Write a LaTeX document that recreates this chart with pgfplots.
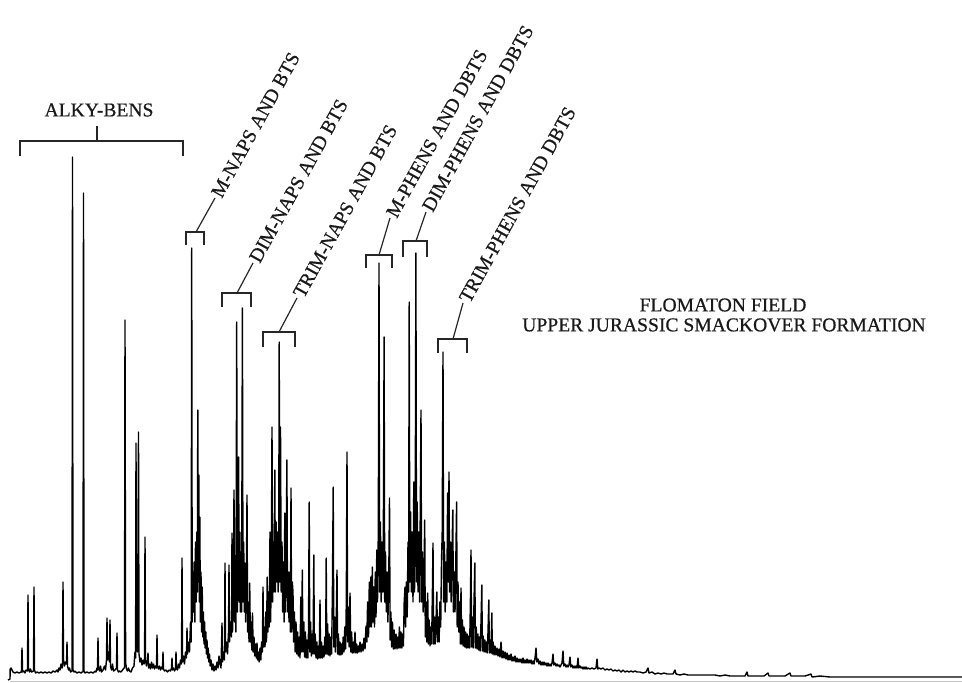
\documentclass[border=0pt]{standalone}
\usepackage{pgfplots}
\pgfplotsset{compat=1.18}
\usepackage{fontspec}
\setmainfont{Liberation Serif}[FakeBold=0.6]

% Flame-ionisation trace of the aromatic fraction: retention position (x)
% against detector response (y), both in plot units.
\pgfplotstableread{
x y
8 2
10 3
10.2 13
11 14
12 12
13 10
15 9
17 10
19 9
21.4 10
22 34
22.6 10
24 11
25 9
26 12
27.5 11
28 87
28.5 14
29.5 10
30.5 13
31.5 10
33.5 11
34 95
34.5 12
35.5 9
37 10
39 9
41 10
43 9
45 10
47 9
49 10
51 9
53 11
55 10
57 12
58 10
59 14
60 12
61 18
62 14
62.5 15
63 100
63.5 22
64.5 16
65.5 20
66.5 18
67 40
67.5 16
68.5 12
69.5 14
70.5 10
72 11
72.5 525
73 12
74 10
75 11
77 9
79 10
81 9
82 10
83 10
83.5 489
84 11
85 9
87 10
89 9
91 10
93 9
95 11
96 10
97 14
97.5 12
98 44
98.5 14
99.5 11
100.5 16
101.5 10
103 12
104.5 16
105.5 12
106.5 22
107 64
107.5 22
108.5 30
109.5 20
110 62
110.5 16
111.5 12
112.5 18
113.5 11
115 12
116.5 14
117 49
117.5 12
118.5 10
119.5 11
121 10
122.5 12
124 14
124.5 14
125 362
125.6 20
126.5 13
127.5 11
128.5 14
129.5 11
131 10
132.5 14
134 16
135 30
135.6 24
136 239
136.5 40
137.5 30
138.5 250
139 28
140 20
141 24
142 17
143 22
144 18
144.6 20
145 145
145.5 22
146.5 16
147.5 22
148 29
148.6 14
149.5 18
150.5 13
151.5 20
152.5 14
153.5 18
154.5 13
155.5 16
156.5 14
157 47
157.5 16
158.5 13
159.5 16
160.5 12
161.5 15
162.5 13
163 30
163.5 13
164.5 11
166 12
167.5 10
169 12
170.5 11
171.5 14
172 24
172.5 12
173.5 14
174.5 11
175.5 13
176 30
176.5 13
177.5 12
178.5 18
179.5 14
180.5 22
181.5 18
182 124
182.5 20
183.5 26
184.5 18
185.5 30
186.5 24
187 54
187.5 28
188.5 40
189.5 30
190.5 60
191.2 40
191.7 434
192.2 60
193 110
193.6 70
194.2 120
194.8 60
195.5 140
196.2 80
196.8 150
197.3 90
197.8 272
198.3 100
198.8 207
199.3 80
199.8 165
200.4 60
201 110
201.6 50
202.2 95
202.8 45
203.4 70
204 38
204.6 60
205.2 34
205.8 50
206.4 28
207 42
207.6 24
208.2 34
208.8 20
209.5 28
210.2 16
211 22
212 12
213 18
214 11
215 16
216 12
217 20
218 14
219 26
220 18
221 14
222 59
222.5 20
223.5 30
224.5 22
225 119
225.5 30
226.5 40
227.5 28
228.5 50
229 117
229.5 40
230.5 60
231.5 45
232 149
232.5 50
233.3 80
234 192
234.6 60
235.3 100
235.9 50
236.7 360
237.3 70
238 120
238.6 225
239.2 80
239.8 150
240.4 70
241 130
241.6 70
242.4 374
243 80
243.7 140
244.3 70
245 119
245.6 60
246.3 90
247 187
247.6 50
248.3 80
249 40
249.7 99
250.4 40
251.1 60
251.8 32
252.5 69
253.2 30
254 45
254.8 26
255.6 38
256.4 24
257 39
257.6 22
258.4 30
259.2 20
260 34
260.8 22
261.6 40
262.4 30
263 95
263.6 35
264.3 55
265 35
265.8 70
266.5 40
267.2 105
267.8 50
268.5 90
269.2 55
270 150
270.6 60
271.3 110
272 255
272.6 80
273.3 140
274 90
274.8 212
275.4 90
276.2 160
276.8 100
277.5 150
278.2 90
278.7 120
279.2 340
279.8 100
280.5 255
281.2 90
282 140
282.7 70
283.4 120
284.1 60
284.8 169
285.4 70
286.2 130
286.9 222
287.5 70
288.3 110
289 60
289.7 110
290.4 50
291 194
291.6 50
292.3 100
293 90
293.6 40
294.4 70
295.2 30
296 60
296.8 28
297.6 50
298.4 26
299.2 45
300 24
300.8 85
301.5 30
302.3 112
303 30
303.8 60
304.6 25
305.4 50
306.2 24
307 42
307.8 24
308.5 50
309.2 180
309.8 30
310.6 60
311.4 26
312.2 48
313 28
313.8 127
314.4 28
315.2 48
316 24
316.8 40
317.6 23
318.4 36
319.2 24
320 82
320.6 24
321.5 40
322.4 24
323.2 36
324 25
324.8 45
325.6 28
326.2 124
326.8 28
327.6 58
328.4 27
329.2 48
330 26
330.8 45
331.6 28
332.4 90
333.2 195
333.8 35
334.6 65
335.4 30
336.2 58
337 112
337.6 28
338.4 48
339.2 27
340 40
340.8 27
341.6 38
342.4 28
343.2 45
344 30
344.8 55
345.6 33
346.3 80
347 230
347.6 40
348.4 75
349.2 35
350 89
350.8 30
351.6 50
352.4 29
353.2 40
354 29
355 50
355.8 29
356.6 38
357.4 29
358.2 36
359 30
360 40
361 30
362 38
363 31
364 44
365 33
366 56
366.8 40
367.6 80
368.5 45
369.3 100
370 55
370.8 105
371.5 55
372.3 115
373 60
373.8 95
374.5 55
375.3 110
376 65
376.8 132
377.5 80
378.3 150
379 419
379.6 90
380.4 160
381.2 80
382 140
382.8 90
383.5 180
384.1 345
384.7 80
385.5 130
386.3 70
387.1 110
387.9 60
388.7 100
389.5 184
390.1 42
390.9 70
391.7 35
392.5 60
393.3 33
394.1 52
395 33
396 48
397 33
397.8 45
398.6 34
399.4 55
400.2 34
401 50
401.8 34
402.6 48
403.4 36
404.2 80
405 95
405.6 55
406.4 100
407.2 65
408 140
408.6 90
409.2 380
409.8 100
410.6 170
411.4 90
412.2 150
413 80
413.8 200
414.5 90
415.2 150
415.9 429
416.5 100
417.2 180
418 90
418.8 150
419.6 80
420.4 190
421 272
421.6 80
422.4 130
423.2 70
424 110
424.7 162
425.3 45
426.1 80
426.9 40
427.7 89
428.4 38
429.2 62
430 36
430.8 55
431.6 38
432.4 90
433 139
433.6 38
434.4 65
435.2 38
436 60
436.8 90
437.5 40
438.3 65
439.1 40
439.9 80
440.7 55
441.5 120
442.2 150
443 330
443.6 80
444.4 140
445.2 70
446 120
446.8 80
447.6 189
448.3 100
449 210
449.6 90
450.4 140
451.2 80
452 130
452.8 172
453.4 70
454.2 110
455 70
455.8 120
456.6 180
457.2 55
458 100
458.8 50
459.6 80
460.4 38
461 94
461.6 38
462.4 62
463.2 36
464 55
464.8 35
465.6 50
466.4 34
467.2 48
468 34
468.8 46
469.6 34
470.4 80
471 132
471.6 35
472.4 65
473.2 34
474 80
474.8 119
475.4 34
476.2 55
477 33
477.8 48
478.6 32
479.4 45
480.2 31
481 60
481.8 97
482.4 31
483.2 46
484 30
484.8 42
485.6 30
486.4 40
487.2 29
488 50
488.8 82
489.4 29
490.2 42
491 29
491.8 69
492.4 28
493.2 40
494 27
495 36
496 27
497 34
498 26
499 33
500 25
501 40
502 24
503 31
504 24
505 30
506 23
507 29
508 22
509 27
510 22
511 28
512 21
513 25
514 21
515 26
516 20
517 24
518 20
519 23
520 20
521 23
522 19
523 24
524 19
525 22
526 19
527 23
528 19
529 22
530 19
531 22
532 18
533 21
534 18
535 24
536 34
536.8 20
538 23
539 18
540 21
541 17
542 20
543 17
544 20
545 17
546 19
547 16
548 19
549 16
550 18
551 16
552 19
553 28
553.8 17
555 19
556 16
557 18
558 16
559 17
560 15
561 17
562 19
563 31
563.8 16
565 18
566 15
567 17
568 15
569 17
570 25
570.8 15
572 17
573 14
574 16
575 14
576 16
577 14
578 24
578.8 14
580 16
581 14
582 15
583 13
584 15
585 13
586 15
587 13
588 14
590 13
592 14
594 13
596 14
597 23
597.8 13
599 14
601 13
603 14
605 12
607 13
609 12
611 13
613 11
615 12
617 11
619 12
621 10
623 12
625 10
627 11
629 10
631 11
633 10
635 11
637 10
640 10
643 9
646 10
648 14
649 9
652 10
655 8
658 9
661 8
664 9
667 8
670 8
673 8
675 12
676 8
680 7
684 8
688 7
692 7
696 7
700 7
705 7
710 7
715 7
720 6
725 7
730 6
735 6
740 6
745 6
747 10
748 6
752 6
756 6
760 6
764 6
768 9
769 6
773 6
777 6
781 6
785 6
790 9
791 6
795 6
800 6
805 6
811 8
812 5
820 6
830 5
840 5
850 5
860 5
870 5
880 5
890 5
900 5
910 5
920 5
930 5
940 5
950 5
962 5
}\trace

\begin{document}
\begin{tikzpicture}
\begin{axis}[
  scale only axis,
  width=481pt, height=341pt,
  xmin=0, xmax=962, ymin=0, ymax=682,
  hide axis, clip=false,
]
% faint recorder base line
\addplot[gray!45, line width=0.4pt] coordinates {(10,1) (962,1)};
% detector trace
\addplot[black, line width=0.7pt, line join=round, mark=none] table {\trace};

% compound-group brackets and leaders
\begin{scope}[line width=0.9pt, black!85]
  \draw (axis cs:20,526) -- (axis cs:20,541) -- (axis cs:183,541) -- (axis cs:183,526);
  \draw (axis cs:97,541) -- (axis cs:97,556);
  \draw (axis cs:186,437) -- (axis cs:186,450) -- (axis cs:204,450) -- (axis cs:204,437);
  \draw (axis cs:222,375) -- (axis cs:222,389) -- (axis cs:251,389) -- (axis cs:251,375);
  \draw (axis cs:263,335) -- (axis cs:263,350) -- (axis cs:295,350) -- (axis cs:295,335);
  \draw (axis cs:366,414) -- (axis cs:366,427) -- (axis cs:392,427) -- (axis cs:392,414);
  \draw (axis cs:403,425) -- (axis cs:403,441) -- (axis cs:427,441) -- (axis cs:427,425);
  \draw (axis cs:438,329) -- (axis cs:438,343) -- (axis cs:467,343) -- (axis cs:467,329);
\end{scope}
\begin{scope}[line width=0.6pt, black!85]
  \draw (axis cs:196,450) -- (axis cs:215,484);
  \draw (axis cs:237,389) -- (axis cs:253,419);
  \draw (axis cs:279,350) -- (axis cs:297,384);
  \draw (axis cs:379,427) -- (axis cs:390,464);
  \draw (axis cs:416,441) -- (axis cs:426,470);
  \draw (axis cs:453,343) -- (axis cs:463,379);
\end{scope}

\begin{scope}[every node/.style={font=\fontsize{9.8}{12}\selectfont, text=black!90, inner sep=1pt}]
  \node at (axis cs:99,572) {ALKY-BENS};
  \node[anchor=west, rotate=61] at (axis cs:215,484) {M-NAPS AND BTS};
  \node[anchor=west, rotate=61] at (axis cs:253,419) {DIM-NAPS AND BTS};
  \node[anchor=west, rotate=61] at (axis cs:297,384) {TRIM-NAPS AND BTS};
  \node[anchor=west, rotate=61] at (axis cs:390,464) {M-PHENS AND DBTS};
  \node[anchor=west, rotate=61] at (axis cs:426,470) {DIM-PHENS AND DBTS};
  \node[anchor=west, rotate=61] at (axis cs:463,379) {TRIM-PHENS AND DBTS};
  \node at (axis cs:723,377) {FLOMATON FIELD};
  \node at (axis cs:724,357) {UPPER JURASSIC SMACKOVER FORMATION};
\end{scope}
\end{axis}
\pgfresetboundingbox
\useasboundingbox (0,0) rectangle (481pt,341pt);
\end{tikzpicture}
\end{document}
